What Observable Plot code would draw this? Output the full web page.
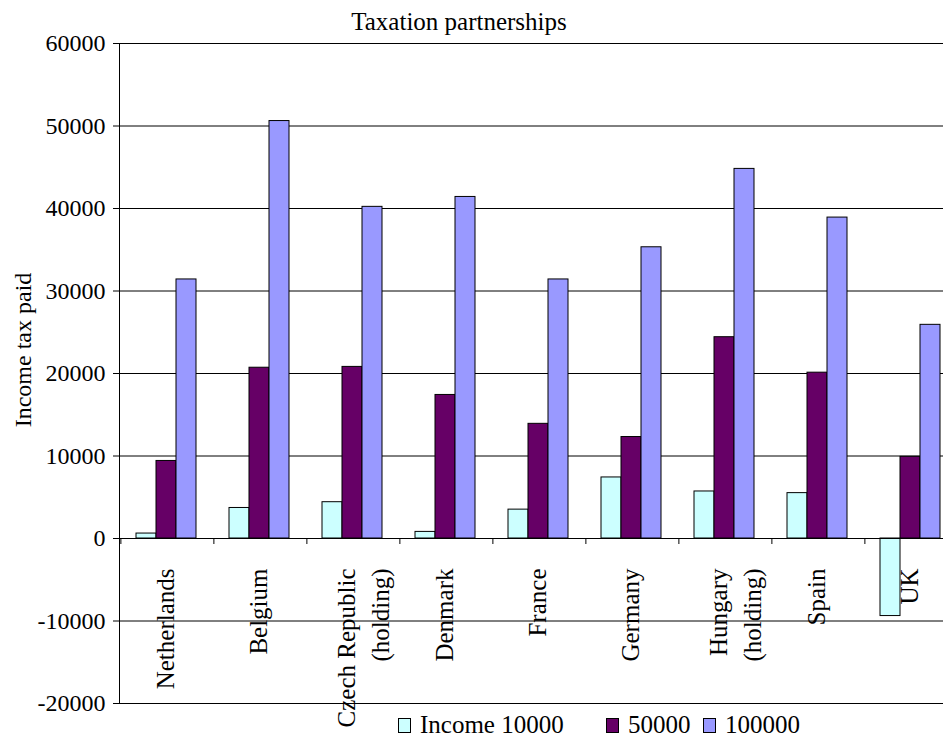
<!DOCTYPE html>
<html>
<head>
<meta charset="utf-8">
<script src="https://cdn.jsdelivr.net/npm/d3@7"></script>
<script src="https://cdn.jsdelivr.net/npm/@observablehq/plot@0.6"></script>
<style>
  body { margin: 0; background: #fff; }
  #wrap { position: relative; width: 943px; height: 740px; overflow: hidden; background: #fff;
          font-family: "Liberation Serif", "Times New Roman", serif; color: #000; }
  #chart { position: absolute; left: 0; top: 0; }
  #title { position: absolute; left: 0; width: 918px; top: 8px; text-align: center; font-size: 25px; line-height: 28px; }
  #ylabel { position: absolute; left: 23px; top: 350px; transform: translate(-50%, -50%) rotate(-90deg);
            font-size: 24px; line-height: 24px; white-space: nowrap; }
  .lg { position: absolute; top: 711px; display: flex; align-items: center; font-size: 25px; line-height: 28px; white-space: nowrap; }
  .lg .sw { width: 13px; height: 15px; border: 1px solid #000; box-sizing: border-box; margin-right: 9px; }
</style>
</head>
<body>
<div id="wrap">
  <div id="chart"></div>
  <div id="title"></div>
  <div id="ylabel"></div>
</div>
<script>
// ---- data ----
const countries = ["Netherlands", "Belgium", "Czech Republic (holding)", "Denmark", "France", "Germany", "Hungary (holding)", "Spain", "UK"];
const countryLabels = ["Netherlands", "Belgium", "Czech Republic\n(holding)", "Denmark", "France", "Germany", "Hungary\n(holding)", "Spain", "UK"];
const seriesNames = ["Income 10000", "50000", "100000"];
const seriesColors = ["#CCFFFF", "#660066", "#9999FF"];
const income10000 = [600, 3700, 4400, 800, 3500, 7400, 5700, 5500, -9400];
const income50000 = [9400, 20700, 20800, 17400, 13900, 12300, 24400, 20100, 9900];
const income100000 = [31400, 50600, 40200, 41400, 31400, 35300, 44800, 38900, 25900];
const yTicks = [-20000, -10000, 0, 10000, 20000, 30000, 40000, 50000, 60000];
const chartTitle = "Taxation partnerships";
const yLabel = "Income tax paid";

// ---- layout ----
const W = 957, H = 740, mL = 118, mR = 0, mT = 43, mB = 37;
const groupPadOuter = 0.72;
const fxStep = (W - mL - mR) / countries.length;
const xStep = fxStep / (seriesNames.length + 2 * groupPadOuter);
const toGroupEdge = -(groupPadOuter + 0.5) * xStep; // from first bar centre to the group's left edge

// ---- table ----
const seriesValues = [income10000, income50000, income100000];
const rows = countries.flatMap((c, i) =>
  seriesNames.map((s, j) => ({country: c, series: s, value: seriesValues[j][i]})));
const labelRows = countries.map((c, i) => ({country: c, label: countryLabels[i]}));
const isMulti = d => d.label.includes("\n");

const chart = Plot.plot({
  width: W,
  height: H,
  marginTop: mT,
  marginBottom: mB,
  marginLeft: mL,
  marginRight: mR,
  style: {fontFamily: '"Liberation Serif", "Times New Roman", serif', fontSize: "24px", background: "white", maxWidth: "none", color: "black"},
  fx: {domain: countries, padding: 0, axis: null},
  x: {domain: seriesNames, paddingInner: 0, paddingOuter: groupPadOuter, axis: null},
  y: {domain: [yTicks[0], yTicks[yTicks.length - 1]], ticks: yTicks, tickFormat: d => String(d),
      tickSize: 6, tickPadding: 8, line: true, label: null},
  color: {domain: seriesNames, range: seriesColors},
  marks: [
    Plot.ruleY(yTicks, {stroke: "black", strokeWidth: 1}),
    Plot.barY(rows, {fx: "country", x: "series", y: "value", fill: "series", stroke: "black", strokeWidth: 1}),
    Plot.ruleY([0], {stroke: "black", strokeWidth: 1}),
    // category separator ticks hanging below the zero line, at each group's left edge
    Plot.ruleX(labelRows, {fx: "country", x: () => seriesNames[0], y1: 0, y2: 0, insetBottom: -6, dx: toGroupEdge, stroke: "black"}),
    Plot.text(labelRows, {filter: d => !isMulti(d), fx: "country", y: 0, text: "label", rotate: -90, textAnchor: "end", dy: 30, fontSize: 25}),
    Plot.text(labelRows, {filter: isMulti, fx: "country", y: 0, text: "label", rotate: -90, textAnchor: "end", dy: 30, dx: 9, fontSize: 25, lineHeight: 1.38})
  ]
});
document.getElementById("chart").appendChild(chart);
document.getElementById("title").textContent = chartTitle;
document.getElementById("ylabel").textContent = yLabel;

const wrap = document.getElementById("wrap");
const legendLeft = [398, 606, 703];
seriesNames.forEach((s, j) => {
  const item = document.createElement("div");
  item.className = "lg";
  item.style.left = legendLeft[j] + "px";
  const sw = document.createElement("div");
  sw.className = "sw";
  sw.style.background = seriesColors[j];
  const t = document.createElement("span");
  t.textContent = s;
  item.appendChild(sw);
  item.appendChild(t);
  wrap.appendChild(item);
});
</script>
</body>
</html>
